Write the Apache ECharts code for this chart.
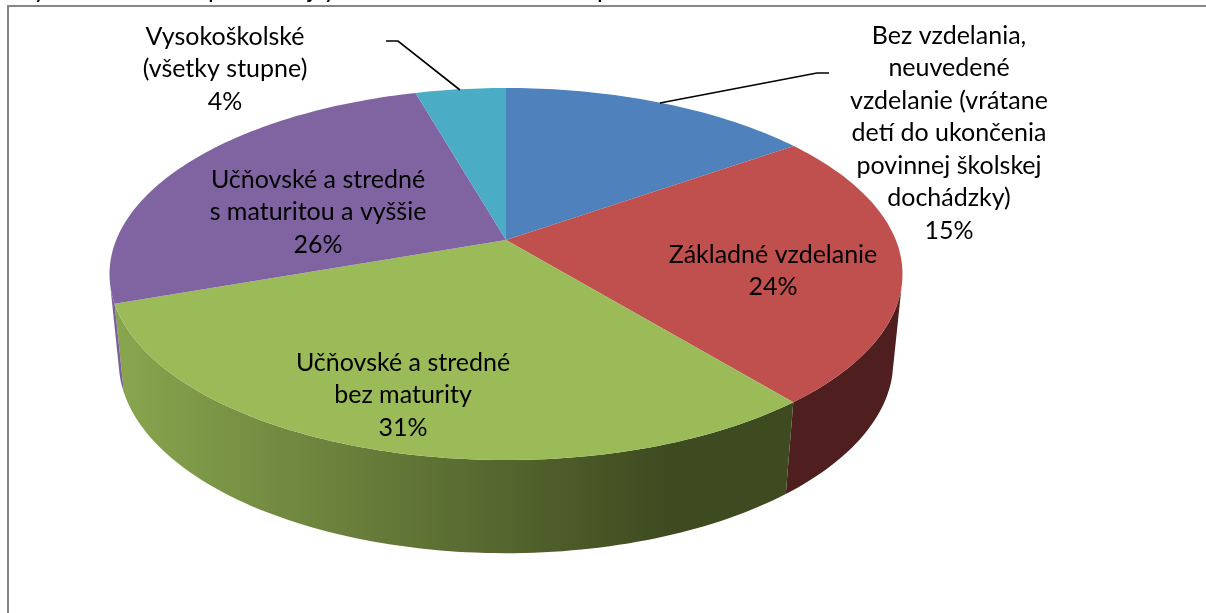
<!DOCTYPE html>
<html>
<head>
<meta charset="utf-8">
<script src="https://cdn.jsdelivr.net/npm/echarts@6/dist/echarts.min.js"></script>
<style>
  html, body { margin: 0; padding: 0; background: #fff; }
  #main { width: 1206px; height: 613px; }
</style>
</head>
<body>
<div id="main"></div>
<script>
var categories = [
  'Bez vzdelania,\nneuvedené\nvzdelanie (vrátane\ndetí do ukončenia\npovinnej školskej\ndochádzky)',
  'Základné vzdelanie',
  'Učňovské a stredné\nbez maturity',
  'Učňovské a stredné\ns maturitou a vyššie',
  'Vysokoškolské\n(všetky stupne)'
];
var shares = [15.2, 23.9, 30.5, 26.0, 4.4];

var topColors = ['#4f81bd', '#c0504d', '#9bbb59', '#8064a2', '#4bacc6'];
var sideColors = ['#3c5a7f', '#4e1f1e', null, '#7a5f9b', '#3a8499'];
var labelCenters = [[949, 133], [773, 271], [403, 395], [318, 212], [225, 69]];
var leaders = [
  [[660, 103], [817, 73], [829, 73]],
  null, null, null,
  [[460, 90], [398, 41], [386, 41]]
];
// the line above the chart is cut off by the page edge, only these descenders show
var cutLetters = [['y', 40], ['p', 215], ['j', 311], ['y', 330], ['p', 604]];

// projected ellipse of the pie, tilted with a bit of perspective
var cx = 506;
var topPlane = { y0: 240, a: 389.8, b: 179.8, k: 0.183, m: 0 };
var bottomPlane = { y0: 327, a: 389.8, b: 190, k: 0.183, m: 0.023 };
// part of the circle (in %) where the wall can be seen, ends on the tangent edges
var wallFrom = 29;
var wallTo = 71.5;

function project(plane, share) {
  var t = share / 100 * Math.PI * 2;
  var w = 1 + plane.m + plane.k * Math.cos(t);
  return [cx + plane.a * Math.sin(t) / w, plane.y0 - plane.b * Math.cos(t) / w];
}

function arc(plane, from, to) {
  var pts = [];
  var n = Math.max(2, Math.ceil((to - from) * 3));
  for (var i = 0; i <= n; i++) {
    pts.push(project(plane, from + (to - from) * i / n));
  }
  return pts;
}

function startOf(idx) {
  var s = 0;
  for (var i = 0; i < idx; i++) s += shares[i];
  return s;
}

var greenSide = new echarts.graphic.LinearGradient(120, 0, 670, 0, [
  { offset: 0, color: '#88a54e' },
  { offset: 1, color: '#3e4a20' }
], true);

function renderSide(params, api) {
  var start = startOf(params.dataIndex);
  var from = Math.max(start, wallFrom);
  var to = Math.min(start + api.value(0), wallTo);
  if (to <= from) return null;
  var pts = arc(topPlane, from, to).concat(arc(bottomPlane, from, to).reverse());
  return {
    type: 'polygon',
    shape: { points: pts },
    style: { fill: sideColors[params.dataIndex] || greenSide }
  };
}

function renderTop(params, api) {
  var from = startOf(params.dataIndex);
  var to = from + api.value(0);
  var pts = [[cx, topPlane.y0]].concat(arc(topPlane, from, to));
  return {
    type: 'polygon',
    shape: { points: pts },
    style: { fill: topColors[params.dataIndex] }
  };
}

function renderLabel(params, api) {
  var i = params.dataIndex;
  var children = [{
    type: 'text',
    x: labelCenters[i][0],
    y: labelCenters[i][1],
    style: {
      text: categories[i] + '\n' + Math.round(api.value(0)) + '%',
      font: '25px Lato',
      lineHeight: 32.5,
      fill: '#000',
      align: 'center',
      verticalAlign: 'middle'
    }
  }];
  if (leaders[i]) {
    children.push({
      type: 'polyline',
      shape: { points: leaders[i] },
      style: { stroke: '#000', lineWidth: 1.6, fill: null }
    });
  }
  return { type: 'group', children: children };
}

var frame = [{
  type: 'polyline',
  silent: true,
  shape: { points: [[8, 613], [8, 6], [1206, 6]] },
  style: { stroke: '#868686', lineWidth: 2, fill: null }
}];
cutLetters.forEach(function (c) {
  frame.push({
    type: 'text',
    silent: true,
    x: c[1],
    y: -10,
    style: { text: c[0], font: '25px Lato', fill: '#000', align: 'center', verticalAlign: 'middle' }
  });
});

var chart = echarts.init(document.getElementById('main'));
chart.setOption({
  animation: false,
  backgroundColor: '#fff',
  graphic: frame,
  series: [
    { type: 'custom', coordinateSystem: 'none', renderItem: renderSide, data: shares, silent: true },
    { type: 'custom', coordinateSystem: 'none', renderItem: renderTop, data: shares, silent: true },
    { type: 'custom', coordinateSystem: 'none', renderItem: renderLabel, data: shares, silent: true }
  ]
});
</script>
</body>
</html>
